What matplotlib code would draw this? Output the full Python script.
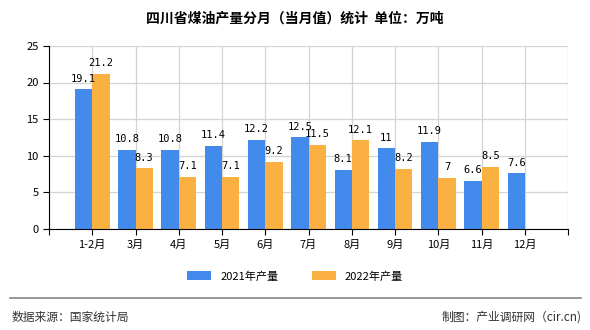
import numpy as np
import matplotlib.pyplot as plt

plt.rcParams['font.family'] = ['Noto Sans CJK SC', 'DejaVu Sans']

months = ['1-2月', '3月', '4月', '5月', '6月', '7月', '8月', '9月', '10月', '11月', '12月']
y2021 = [19.1, 10.8, 10.8, 11.4, 12.2, 12.5, 8.1, 11, 11.9, 6.6, 7.6]
y2022 = [21.2, 8.3, 7.1, 7.1, 9.2, 11.5, 12.1, 8.2, 7, 8.5]

blue = '#428BEC'
orange = '#FBB142'

fig = plt.figure(figsize=(5.9, 3.3), dpi=100)
ax = fig.add_axes([0.083, 0.306, 0.880, 0.555])

x = np.arange(len(months))
w = 0.4
b1 = ax.bar(x[:len(y2021)] - w/2, y2021, w, color=blue, label='2021年产量', zorder=2)
b2 = ax.bar(x[:len(y2022)] + w/2, y2022, w, color=orange, label='2022年产量', zorder=2)

# value labels above each bar
for bars, vals in [(b1, y2021), (b2, y2022)]:
    for r, v in zip(bars, vals):
        ax.annotate('%g' % v, (r.get_x() + r.get_width()/2, r.get_height()),
                    xytext=(0, 4), textcoords='offset points', ha='center', va='bottom',
                    fontsize=7.5, family=['DejaVu Sans Mono'], zorder=3)

ax.set_xlim(-1, len(months))
ax.set_ylim(0, 25)
ax.set_yticks(range(0, 26, 5))
ax.set_xticks(np.arange(-1, len(months) + 1))
ax.set_xticklabels([''] + months + [''])
ax.tick_params(axis='both', labelsize=8, length=4, width=0.8, direction='out')
ax.grid(True, color='#d4d4d4', linewidth=0.9, zorder=0)
for s in ['top', 'right']:
    ax.spines[s].set_visible(False)

fig.text(0.5, 0.945, '四川省煤油产量分月（当月值）统计  单位：万吨', ha='center', va='center',
         fontsize=10, fontweight='bold')

fig.legend(handles=[b1, b2], loc='center', bbox_to_anchor=(0.5, 0.163), ncol=2,
           frameon=False, fontsize=8, handlelength=2.2, handleheight=0.8, columnspacing=3)

fig.add_artist(plt.Line2D([0.017, 0.985], [0.097, 0.097], color='#888888', linewidth=1.2))
fig.text(0.02, 0.04, '数据来源：国家统计局', ha='left', va='center', fontsize=8.5, color='#333333')
fig.text(0.985, 0.04, '制图：产业调研网（cir.cn)', ha='right', va='center', fontsize=8.5, color='#333333')

fig.savefig('out.png', dpi=100)
